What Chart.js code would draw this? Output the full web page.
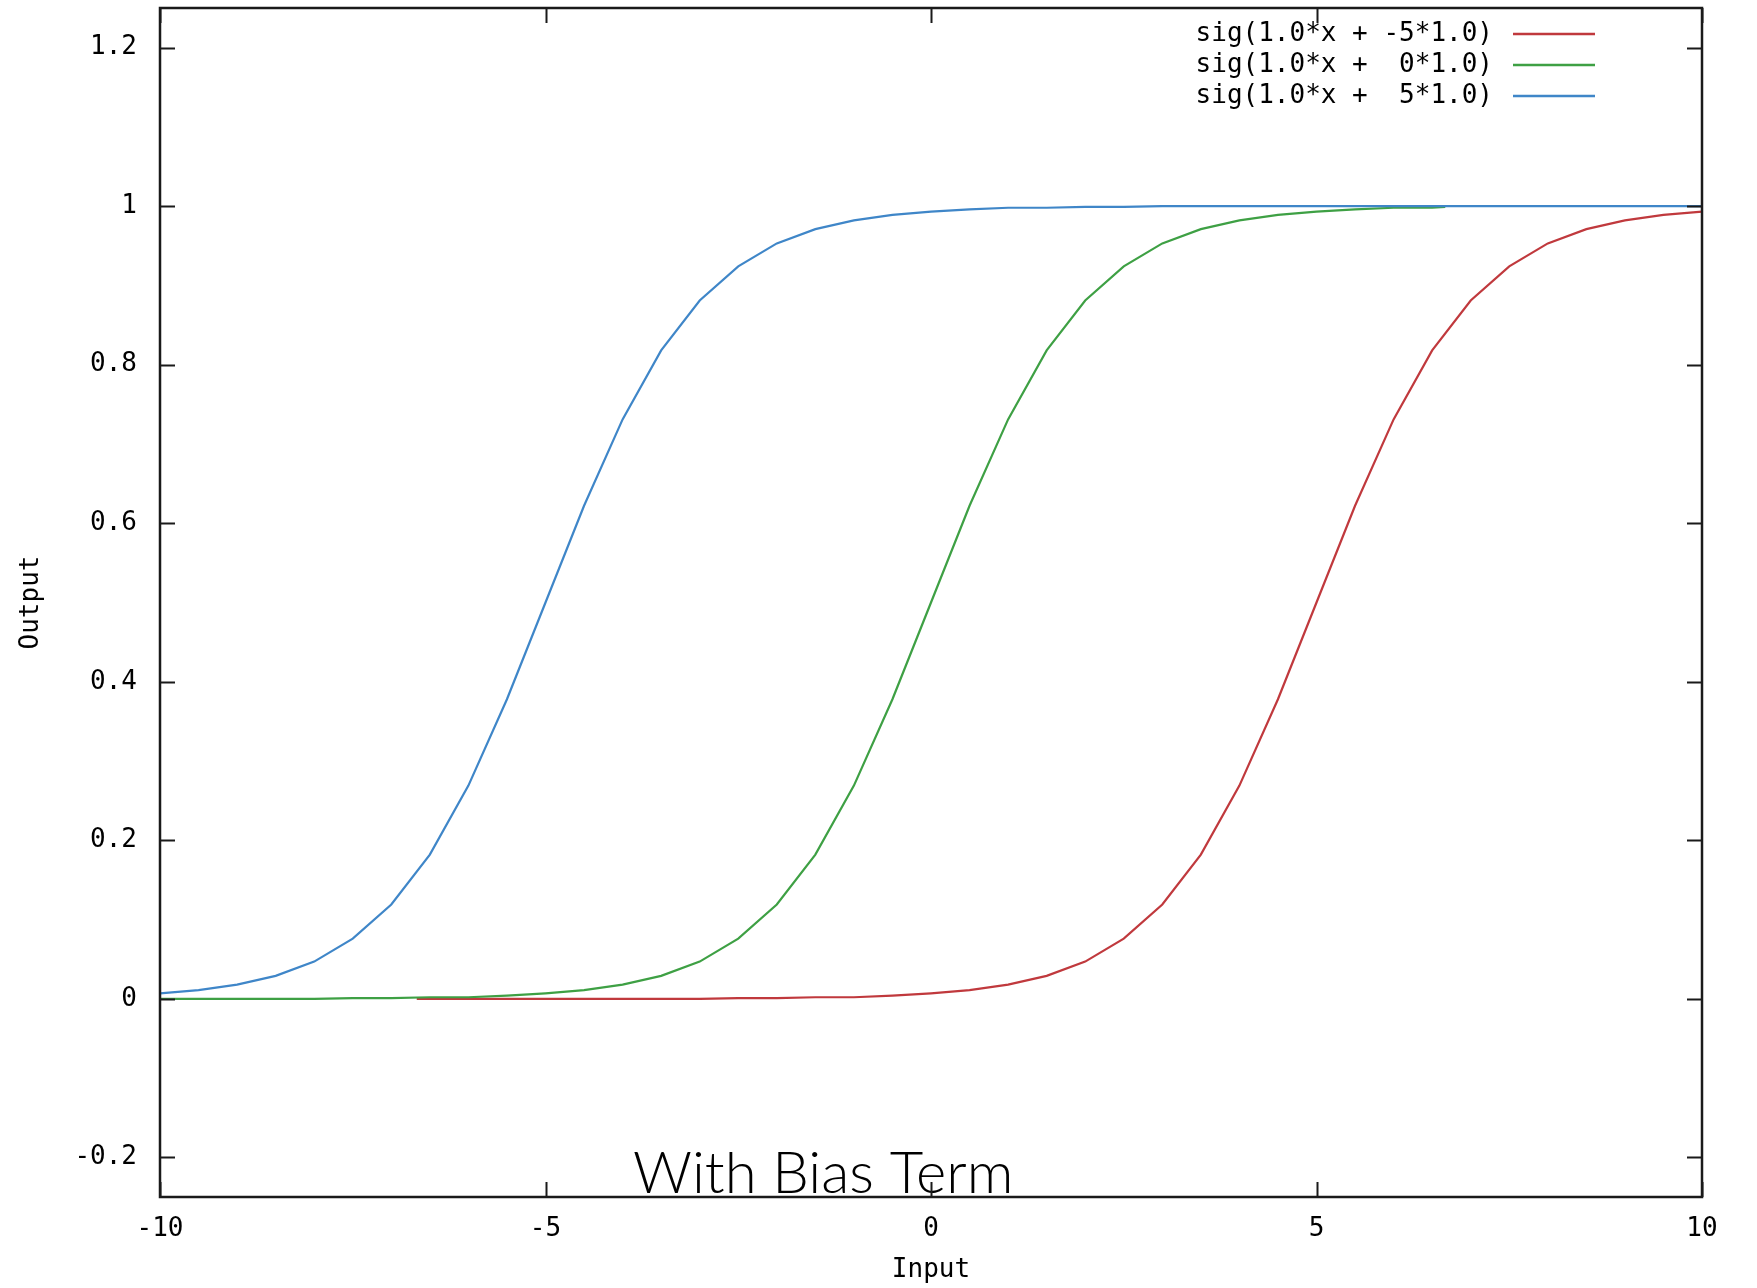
<!DOCTYPE html>
<html>
<head>
<meta charset="utf-8">
<script src="https://cdn.jsdelivr.net/npm/chart.js@4"></script>
<style>
  html, body { margin: 0; padding: 0; background: #fff; }
  canvas { display: block; }
</style>
</head>
<body>
<canvas id="sig-chart" width="1757" height="1288"></canvas>
<script>
// values (step 0.5 along the input axis)
const seriesLabels = ['sig(1.0*x + -5*1.0)', 'sig(1.0*x +  0*1.0)', 'sig(1.0*x +  5*1.0)'];
const seriesColors = ['#c0393d', '#3ea044', '#3f86c8'];

const redX = [-6.67, -6.5, -6, -5.5, -5, -4.5, -4, -3.5, -3, -2.5, -2, -1.5, -1, -0.5, 0, 0.5, 1, 1.5, 2, 2.5,
    3, 3.5, 4, 4.5, 5, 5.5, 6, 6.5, 7, 7.5, 8, 8.5, 9, 9.5, 10];
const redY = [0, 0, 0, 0, 0, 0, 0, 0, 0, 0.001, 0.001, 0.002, 0.002, 0.004, 0.007, 0.011, 0.018, 0.029, 0.047, 0.076,
    0.119, 0.182, 0.269, 0.378, 0.5, 0.622, 0.731, 0.818, 0.881, 0.924, 0.953, 0.971, 0.982, 0.989, 0.993];

const greenX = [-10, -9.5, -9, -8.5, -8, -7.5, -7, -6.5, -6, -5.5, -5, -4.5, -4, -3.5, -3, -2.5, -2, -1.5, -1, -0.5,
    0, 0.5, 1, 1.5, 2, 2.5, 3, 3.5, 4, 4.5, 5, 5.5, 6, 6.5, 6.67];
const greenY = [0, 0, 0, 0, 0, 0.001, 0.001, 0.002, 0.002, 0.004, 0.007, 0.011, 0.018, 0.029, 0.047, 0.076, 0.119, 0.182, 0.269, 0.378,
    0.5, 0.622, 0.731, 0.818, 0.881, 0.924, 0.953, 0.971, 0.982, 0.989, 0.993, 0.996, 0.998, 0.998, 0.999];

const blueX = [-10, -9.5, -9, -8.5, -8, -7.5, -7, -6.5, -6, -5.5, -5, -4.5, -4, -3.5, -3, -2.5, -2, -1.5, -1, -0.5,
    0, 0.5, 1, 1.5, 2, 2.5, 3, 3.5, 4, 4.5, 5, 5.5, 6, 6.5, 7, 7.5, 8, 8.5, 9, 9.5, 10];
const blueY = [0.007, 0.011, 0.018, 0.029, 0.047, 0.076, 0.119, 0.182, 0.269, 0.378, 0.5, 0.622, 0.731, 0.818, 0.881, 0.924, 0.953, 0.971, 0.982, 0.989,
    0.993, 0.996, 0.998, 0.998, 0.999, 0.999, 1, 1, 1, 1, 1, 1, 1, 1, 1, 1, 1, 1, 1, 1, 1];

const xTicks = [-10, -5, 0, 5, 10];
const yTicks = [-0.2, 0, 0.2, 0.4, 0.6, 0.8, 1, 1.2];

const overlayTitle = 'With Bias Term';
const monoFont = '"DejaVu Sans Mono", "Liberation Mono", monospace';

function toPoints(xs, ys) {
    return xs.map((x, i) => ({ x: x, y: ys[i] }));
}

// gnuplot-ish frame with inward ticks on all four sides, plus key and overlay text
const framePlugin = {
    id: 'frame',
    afterDatasetsDraw(chart) {
        const ctx = chart.ctx;
        const area = chart.chartArea;
        const xs = chart.scales.x;
        const ys = chart.scales.y;

        ctx.save();
        // big slide caption sitting on the bottom border
        ctx.fillStyle = '#000';
        ctx.font = '300 58px Lato, "Open Sans", sans-serif';
        ctx.textAlign = 'left';
        ctx.textBaseline = 'alphabetic';
        ctx.fillText(overlayTitle, 633, 1193);

        ctx.strokeStyle = '#1a1a1a';
        ctx.lineWidth = 2.5;
        ctx.strokeRect(area.left, area.top, area.right - area.left, area.bottom - area.top);

        const tl = 15;
        ctx.lineWidth = 2;
        ctx.beginPath();
        xTicks.forEach(v => {
            const px = Math.round(xs.getPixelForValue(v)) + 0.5;
            ctx.moveTo(px, area.bottom); ctx.lineTo(px, area.bottom - tl);
            ctx.moveTo(px, area.top); ctx.lineTo(px, area.top + tl);
        });
        yTicks.forEach(v => {
            const py = Math.round(ys.getPixelForValue(v)) + 0.5;
            ctx.moveTo(area.left, py); ctx.lineTo(area.left + tl, py);
            ctx.moveTo(area.right, py); ctx.lineTo(area.right - tl, py);
        });
        ctx.stroke();

        // key, top right
        ctx.font = '26px ' + monoFont;
        ctx.textAlign = 'right';
        ctx.textBaseline = 'middle';
        chart.data.datasets.forEach((ds, i) => {
            const y = 34 + i * 31;
            ctx.fillStyle = '#000';
            ctx.fillText(ds.label, 1493, y);
            ctx.strokeStyle = ds.borderColor;
            ctx.lineWidth = 2.5;
            ctx.beginPath();
            ctx.moveTo(1513, y);
            ctx.lineTo(1595, y);
            ctx.stroke();
        });
        ctx.restore();
    }
};

const ctx = document.getElementById('sig-chart');
new Chart(ctx, {
    type: 'line',
    data: {
        datasets: [
            { label: seriesLabels[0], data: toPoints(redX, redY), borderColor: seriesColors[0], order: 3 },
            { label: seriesLabels[1], data: toPoints(greenX, greenY), borderColor: seriesColors[1], order: 2 },
            { label: seriesLabels[2], data: toPoints(blueX, blueY), borderColor: seriesColors[2], order: 1 }
        ].map(ds => Object.assign(ds, { borderWidth: 2.2, pointRadius: 0, tension: 0, fill: false }))
    },
    options: {
        responsive: false,
        animation: false,
        devicePixelRatio: 1,
        layout: { padding: { top: 8, right: 55, left: 0, bottom: 0 } },
        plugins: {
            legend: { display: false },
            tooltip: { enabled: false }
        },
        scales: {
            x: {
                type: 'linear',
                min: -10,
                max: 10,
                grid: { display: false, drawTicks: false },
                border: { display: false },
                afterBuildTicks: (scale) => { scale.ticks = xTicks.map(v => ({ value: v })); },
                afterFit: (scale) => {
                    scale.height = 91;
                    scale.paddingLeft = 0;
                    scale.paddingRight = 0;
                },
                ticks: {
                    color: '#000',
                    padding: 17,
                    maxRotation: 0,
                    autoSkip: false,
                    font: { family: monoFont, size: 26 }
                },
                title: {
                    display: true,
                    text: 'Input',
                    color: '#000',
                    padding: { top: 2, bottom: 2 },
                    font: { family: monoFont, size: 26 }
                }
            },
            y: {
                min: -0.25,
                max: 1.25,
                grid: { display: false, drawTicks: false },
                border: { display: false },
                afterBuildTicks: (scale) => { scale.ticks = yTicks.map(v => ({ value: v })); },
                afterFit: (scale) => {
                    scale.width = 160;
                    scale.paddingTop = 0;
                    scale.paddingBottom = 0;
                },
                ticks: {
                    color: '#000',
                    padding: 23,
                    autoSkip: false,
                    font: { family: monoFont, size: 26 },
                    callback: (v) => String(Math.round(v * 10) / 10)
                },
                title: {
                    display: true,
                    text: 'Output',
                    color: '#000',
                    padding: { top: 16, bottom: 0 },
                    font: { family: monoFont, size: 26 }
                }
            }
        }
    },
    plugins: [framePlugin]
});
</script>
</body>
</html>
